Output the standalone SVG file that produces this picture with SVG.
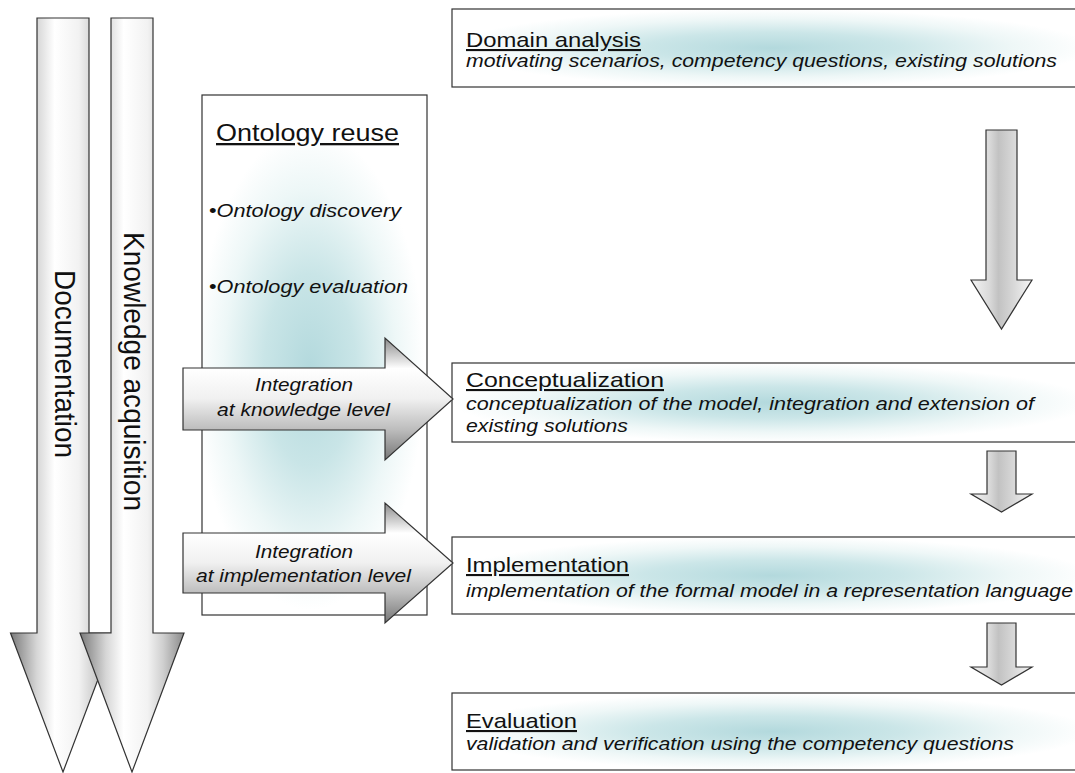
<svg xmlns="http://www.w3.org/2000/svg" width="1075" height="773" viewBox="0 0 1075 773">
<defs>
<style>
.box{stroke:#333;stroke-width:1.2}
.arr{stroke:#333;stroke-width:1.2;stroke-linejoin:miter}
.t{font-family:"Liberation Sans",Arial,sans-serif;fill:#111}
.ttl{font-size:21px;text-decoration:underline}
.sub{font-size:18px;font-style:italic}
.it{font-size:18px;font-style:italic}
.big{font-size:30px}
</style>
<radialGradient id="glow" cx="0.5" cy="0.5" r="0.5">
<stop offset="0" stop-color="#b3d9dd"/>
<stop offset="0.4" stop-color="#cbe6e8"/>
<stop offset="0.75" stop-color="#eef7f7"/>
<stop offset="1" stop-color="#ffffff"/>
</radialGradient>
<radialGradient id="glowV" gradientUnits="userSpaceOnUse" cx="0" cy="0" r="1" gradientTransform="translate(310,370) scale(115,240)">
<stop offset="0" stop-color="#b3d9dd"/>
<stop offset="0.4" stop-color="#c9e5e7"/>
<stop offset="0.75" stop-color="#edf7f7"/>
<stop offset="1" stop-color="#ffffff"/>
</radialGradient>
<linearGradient id="gBig" x1="0" y1="0" x2="1" y2="0">
<stop offset="0" stop-color="#7a7a7a"/>
<stop offset="0.25" stop-color="#d6d6d6"/>
<stop offset="0.42" stop-color="#ffffff"/>
<stop offset="0.65" stop-color="#f2f2f2"/>
<stop offset="0.8" stop-color="#cfcfcf"/>
<stop offset="1" stop-color="#8a8a8a"/>
</linearGradient>
<linearGradient id="gDown" x1="0" y1="0" x2="1" y2="0">
<stop offset="0" stop-color="#f4f4f4"/>
<stop offset="0.3" stop-color="#dadada"/>
<stop offset="0.45" stop-color="#c2c2c2"/>
<stop offset="0.7" stop-color="#d8d8d8"/>
<stop offset="1" stop-color="#f6f6f6"/>
</linearGradient>
<linearGradient id="gInt" x1="0" y1="0" x2="0" y2="1">
<stop offset="0" stop-color="#8a8a8a"/>
<stop offset="0.25" stop-color="#ffffff"/>
<stop offset="0.5" stop-color="#f0f0f0"/>
<stop offset="0.75" stop-color="#bdbdbd"/>
<stop offset="1" stop-color="#777777"/>
</linearGradient>
</defs>
<rect width="1075" height="773" fill="#ffffff"/>

<g id="domain-analysis">
<rect class="box" x="452" y="9" width="640" height="78" fill="url(#glow)"/>
<text class="t ttl" x="466" y="47" textLength="175" lengthAdjust="spacingAndGlyphs">Domain analysis</text>
<text class="t sub" x="466" y="67" textLength="591" lengthAdjust="spacingAndGlyphs">motivating scenarios, competency questions, existing solutions</text>
</g>

<g id="conceptualization">
<rect class="box" x="452" y="363" width="640" height="79" fill="url(#glow)"/>
<text class="t ttl" x="466" y="387" textLength="198" lengthAdjust="spacingAndGlyphs">Conceptualization</text>
<text class="t sub" x="466" y="410" textLength="568" lengthAdjust="spacingAndGlyphs">conceptualization of the model, integration and extension of</text>
<text class="t sub" x="466" y="432" textLength="162" lengthAdjust="spacingAndGlyphs">existing solutions</text>
</g>

<g id="implementation">
<rect class="box" x="452" y="537" width="640" height="77" fill="url(#glow)"/>
<text class="t ttl" x="466" y="572" textLength="163" lengthAdjust="spacingAndGlyphs">Implementation</text>
<text class="t sub" x="466" y="597" textLength="607" lengthAdjust="spacingAndGlyphs">implementation of the formal model in a representation language</text>
</g>

<g id="evaluation">
<rect class="box" x="452" y="693" width="640" height="77" fill="url(#glow)"/>
<text class="t ttl" x="466" y="728" textLength="111" lengthAdjust="spacingAndGlyphs">Evaluation</text>
<text class="t sub" x="466" y="750" textLength="548" lengthAdjust="spacingAndGlyphs">validation and verification using the competency questions</text>
</g>

<g id="ontology-reuse">
<rect class="box" x="202" y="95" width="225" height="520" fill="url(#glowV)"/>
<text class="t" x="216" y="141" font-size="23" text-decoration="underline" textLength="183" lengthAdjust="spacingAndGlyphs">Ontology reuse</text>
<text class="t it" x="209" y="217" textLength="192" lengthAdjust="spacingAndGlyphs"><tspan font-style="normal">•</tspan>Ontology discovery</text>
<text class="t it" x="209" y="293" textLength="199" lengthAdjust="spacingAndGlyphs"><tspan font-style="normal">•</tspan>Ontology evaluation</text>
</g>

<g id="connectors">
<path id="documentation" class="arr" d="M37,18 H89 V633 H115.5 L63,772 L10.5,633 H37 Z" fill="url(#gBig)"/>
<path id="knowledge-acquisition" class="arr" d="M111,18 H153 V633 H184 L132,772 L80,633 H111 Z" fill="url(#gBig)"/>
<path class="arr" d="M986,130 H1017 V280 H1032 L1001.5,329 L971,280 H986 Z" fill="url(#gDown)"/>
<path class="arr" d="M987,451 H1016 V494 H1032 L1001.5,512 L971,494 H987 Z" fill="url(#gDown)"/>
<path class="arr" d="M987,623 H1016 V667 H1032 L1001.5,685 L971,667 H987 Z" fill="url(#gDown)"/>
<path class="arr" d="M183,368 H385 V338 L453,399 L385,460 V430 H183 Z" fill="url(#gInt)"/>
<path class="arr" d="M183,533 H385 V503 L453,563 L385,623 V593 H183 Z" fill="url(#gInt)"/>
<text class="t big" transform="translate(55,270) rotate(90)" textLength="188" lengthAdjust="spacingAndGlyphs">Documentation</text>
<text class="t big" transform="translate(124,232) rotate(90)" textLength="279" lengthAdjust="spacingAndGlyphs">Knowledge acquisition</text>
<text class="t it" x="255" y="391" textLength="98" lengthAdjust="spacingAndGlyphs">Integration</text>
<text class="t it" x="217" y="416" textLength="173" lengthAdjust="spacingAndGlyphs">at knowledge level</text>
<text class="t it" x="255" y="558" textLength="98" lengthAdjust="spacingAndGlyphs">Integration</text>
<text class="t it" x="196" y="582" textLength="215" lengthAdjust="spacingAndGlyphs">at implementation level</text>
</g>
</svg>
